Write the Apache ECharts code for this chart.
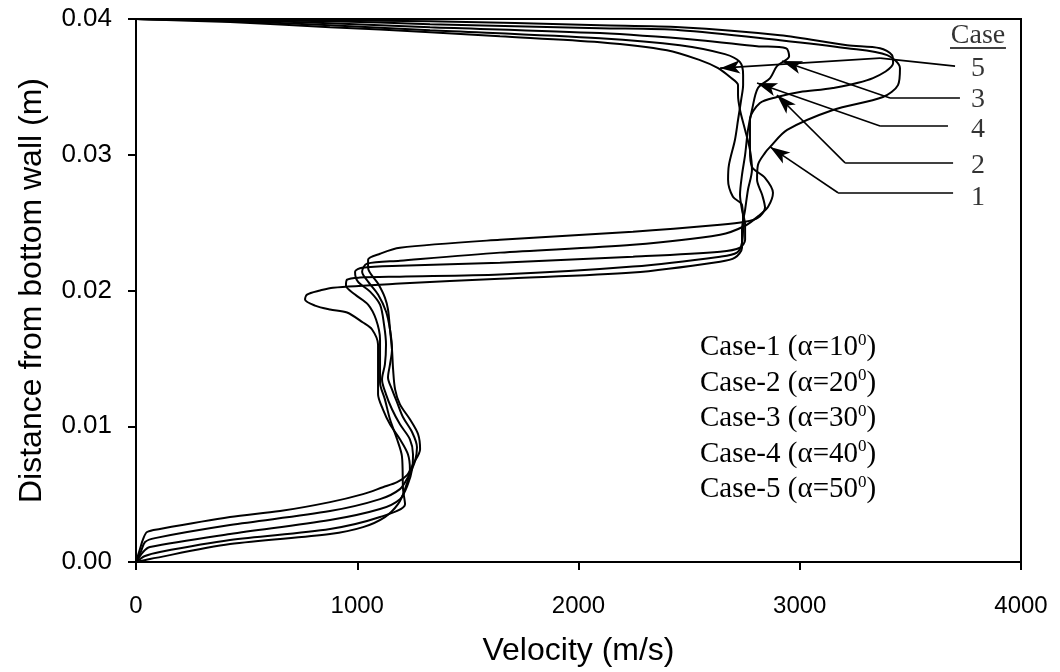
<!DOCTYPE html>
<html>
<head>
<meta charset="utf-8">
<script src="https://cdn.jsdelivr.net/npm/echarts@6/dist/echarts.min.js"></script>
<style>
  html, body { margin: 0; padding: 0; background: #fff; }
  #chart { width: 1060px; height: 672px; }
</style>
</head>
<body>
<div id="chart"></div>
<script>
// Velocity profiles across the channel: [velocity (m/s), distance from bottom wall (m)]
const case1 = [[0,0],[18,0.00096],[32,0.00169],[50,0.00221],[108,0.00243],[425,0.00331],[651,0.00375],[877,0.00441],
  [1026,0.005],[1116,0.00551],[1180,0.00588],[1225,0.0064],[1252,0.0072],[1284,0.00831],[1275,0.00941],[1238,0.01051],
  [1193,0.01161],[1171,0.01272],[1162,0.01419],[1157,0.01566],[1148,0.01713],[1139,0.0186],[1125,0.01948],[1094,0.02051],
  [1049,0.02168],[1049,0.02227],[1103,0.02271],[1193,0.02315],[1645,0.02374],[2246,0.02433],[2640,0.02484],[2753,0.02506],
  [2811,0.02536],[2843,0.02609],[2830,0.02705],[2807,0.02815],[2811,0.02925],[2843,0.03014],[2866,0.03058],[2943,0.03183],
  [3150,0.0333],[3376,0.03425],[3444,0.03513],[3453,0.03638],[3395,0.03734],[3214,0.03785],[2911,0.03844],[2459,0.03918],
  [2097,0.03932],[1329,0.03962],[877,0.03984],[425,0.03991],[0,0.04]];

const case2 = [[0,0],[23,0.00081],[41,0.00147],[86,0.00176],[425,0.00272],[877,0.00375],[1103,0.00463],[1193,0.00537],
  [1229,0.00625],[1261,0.00742],[1270,0.00845],[1248,0.00956],[1207,0.01066],[1180,0.01176],[1157,0.01272],[1139,0.0136],
  [1148,0.01455],[1157,0.01566],[1148,0.01713],[1130,0.01845],[1094,0.0197],[1049,0.02065],[1022,0.02139],[1044,0.02198],
  [1193,0.0222],[1645,0.02279],[2246,0.02337],[2640,0.02411],[2753,0.02477],[2820,0.02558],[2857,0.02617],[2879,0.0272],
  [2843,0.0283],[2784,0.02911],[2775,0.03036],[2775,0.03256],[2820,0.03381],[2897,0.03425],[3001,0.03462],[3150,0.03491],
  [3331,0.03565],[3422,0.03675],[3417,0.03734],[3363,0.03785],[3214,0.03807],[2911,0.03881],[2459,0.0394],[2097,0.03954],
  [1329,0.03984],[425,0.03995],[0,0.04]];

const case3 = [[0,0],[32,0.00074],[63,0.0011],[425,0.00206],[877,0.00309],[1103,0.0039],[1193,0.00463],[1229,0.00573],
  [1248,0.00684],[1252,0.00794],[1238,0.00904],[1193,0.01014],[1157,0.01125],[1130,0.01235],[1112,0.01345],[1125,0.01455],
  [1130,0.01602],[1121,0.01749],[1103,0.01896],[1058,0.01992],[1003,0.02065],[990,0.02139],[1022,0.02168],[1193,0.02183],
  [1645,0.02205],[2246,0.02249],[2640,0.02286],[2730,0.02315],[2753,0.02374],[2753,0.02484],[2739,0.02595],[2730,0.02705],
  [2739,0.02852],[2753,0.02999],[2766,0.03183],[2784,0.0333],[2811,0.03491],[2866,0.03565],[2897,0.03653],[2952,0.03726],
  [2938,0.03785],[2807,0.038],[2549,0.03844],[2097,0.03896],[1329,0.0394],[877,0.03969],[425,0.03991],[0,0.04]];

const case4 = [[0,0],[41,0.00044],[108,0.00074],[425,0.00162],[877,0.00243],[1103,0.00331],[1216,0.00426],[1207,0.00537],
  [1202,0.00779],[1180,0.00904],[1148,0.01051],[1125,0.01198],[1103,0.01323],[1103,0.01492],[1103,0.01639],[1085,0.01786],
  [1049,0.01896],[990,0.0197],[949,0.02036],[954,0.0208],[1012,0.02095],[1193,0.02102],[1645,0.02117],[2246,0.02176],
  [2640,0.02249],[2716,0.02279],[2739,0.02352],[2744,0.02484],[2739,0.02631],[2698,0.0269],[2676,0.02815],[2680,0.02925],
  [2707,0.03109],[2721,0.03256],[2735,0.03403],[2744,0.03513],[2744,0.03587],[2730,0.03682],[2662,0.03741],[2459,0.03807],
  [2097,0.03859],[1329,0.03918],[877,0.03954],[425,0.03984],[0,0.04]];

const case5 = [[0,0],[63,0.00022],[425,0.00132],[877,0.00206],[1026,0.00257],[1125,0.00331],[1184,0.00426],[1216,0.00537],
  [1238,0.00684],[1229,0.00794],[1193,0.00904],[1148,0.01014],[1116,0.01125],[1094,0.01235],[1094,0.01419],[1094,0.01602],
  [1067,0.01713],[1026,0.01764],[954,0.01838],[877,0.0186],[809,0.01889],[764,0.01933],[773,0.0197],[832,0.02],
  [890,0.02021],[1193,0.02051],[1645,0.02087],[2246,0.02132],[2640,0.02212],[2707,0.02242],[2739,0.02315],[2739,0.02448],
  [2753,0.02595],[2766,0.02742],[2784,0.02889],[2775,0.03036],[2753,0.03183],[2730,0.0333],[2721,0.0344],[2721,0.03513],
  [2685,0.03572],[2631,0.03638],[2549,0.03697],[2400,0.0377],[2097,0.03829],[1645,0.03873],[1329,0.03903],[877,0.0394],
  [425,0.03977],[0,0.04]];

const profiles = [case1, case2, case3, case4, case5];
const caseAngles = [10, 20, 30, 40, 50];

// Case tags at the right edge and the leader arrows that point at each profile
const tagText = ['5', '3', '4', '2', '1'];
const tagAt = [[3806, 0.03638], [3806, 0.03403], [3806, 0.03183], [3806, 0.02918], [3806, 0.02683]];
const leaderStart = [[3702, 0.03653], [3724, 0.03418], [3670, 0.03212], [3693, 0.0294], [3693, 0.0272]];
const leaderBend = [[3363, 0.03712], [3408, 0.03418], [3363, 0.03212], [3205, 0.0294], [3173, 0.0272]];
const leaderTip = [[2640, 0.03638], [2920, 0.0369], [2807, 0.03528], [2897, 0.0344], [2866, 0.03058]];
const headerAt = [3806, 0.0388];
const headerRule = [[3679, 0.03785], [3932, 0.03785]];

const chart = echarts.init(document.getElementById('chart'), null, { renderer: 'canvas' });

const SANS = '"Liberation Sans", Arial, sans-serif';
const SERIF = '"Liberation Serif", "Times New Roman", serif';

const profileSeries = profiles.map((pts, i) => ({
  name: 'Case-' + (i + 1),
  type: 'line',
  data: pts,
  showSymbol: false,
  symbol: 'none',
  smooth: 0.3,
  lineStyle: { color: '#000', width: 2 },
  silent: true,
  z: 3
}));

const leaderLines = [];
for (let i = 0; i < tagText.length; i++) {
  leaderLines.push([{ coord: leaderStart[i], symbol: 'none' }, { coord: leaderBend[i], symbol: 'none' }]);
  leaderLines.push([{ coord: leaderBend[i], symbol: 'none' }, { coord: leaderTip[i], symbol: 'arrow', symbolSize: [10, 20] }]);
}
leaderLines.push([{ coord: headerRule[0], symbol: 'none' }, { coord: headerRule[1], symbol: 'none' }]);

const legendText = caseAngles.map((a, i) => 'Case-' + (i + 1) + ' (\u03B1=' + a + '{sup|0})').join('\n');

chart.setOption({
  animation: false,
  backgroundColor: '#fff',
  grid: { left: 136, right: 39, top: 19, bottom: 109, show: true, borderColor: '#000', borderWidth: 2 },
  xAxis: {
    type: 'value', min: 0, max: 4000, interval: 1000,
    name: 'Velocity (m/s)', nameLocation: 'middle', nameGap: 73,
    nameTextStyle: { fontFamily: SANS, fontSize: 32, color: '#000' },
    axisLine: { show: true, lineStyle: { color: '#000', width: 2 } },
    axisTick: { show: true, inside: false, length: 8, lineStyle: { color: '#000', width: 2 } },
    axisLabel: { fontFamily: SANS, fontSize: 24, color: '#000', margin: 32, formatter: v => String(v) },
    splitLine: { show: false }
  },
  yAxis: {
    type: 'value', min: 0, max: 0.04, interval: 0.01,
    name: 'Distance from bottom wall (m)', nameLocation: 'middle', nameGap: 88,
    nameTextStyle: { fontFamily: SANS, fontSize: 32, color: '#000' },
    axisLine: { show: true, lineStyle: { color: '#000', width: 2 } },
    axisTick: { show: true, inside: false, length: 8, lineStyle: { color: '#000', width: 2 } },
    axisLabel: { fontFamily: SANS, fontSize: 26, color: '#000', margin: 24, formatter: v => v.toFixed(2) },
    splitLine: { show: false }
  },
  series: profileSeries.concat([
    {
      type: 'line', data: [], silent: true, z: 4,
      markLine: {
        silent: true, animation: false, symbol: 'none',
        label: { show: false },
        lineStyle: { color: '#000', width: 1.6, type: 'solid' },
        emphasis: { disabled: true },
        data: leaderLines
      }
    },
    {
      type: 'scatter', symbolSize: 0, silent: true, z: 5,
      data: tagAt.map((p, i) => ({ value: p, name: tagText[i] })).concat([{ value: headerAt, name: 'Case' }]),
      label: {
        show: true, position: 'inside', formatter: p => p.name,
        fontFamily: SERIF, fontSize: 28, color: '#000', align: 'center', verticalAlign: 'middle'
      }
    }
  ]),
  graphic: [{
    type: 'text', left: 700, top: 330, silent: true, z: 10,
    style: {
      text: legendText, fill: '#000', fontFamily: SERIF, fontSize: 29, lineHeight: 35.5,
      rich: { sup: { fontFamily: SERIF, fontSize: 17, fill: '#000', padding: [0, 0, 15, 0] } }
    }
  }]
});
</script>
</body>
</html>
